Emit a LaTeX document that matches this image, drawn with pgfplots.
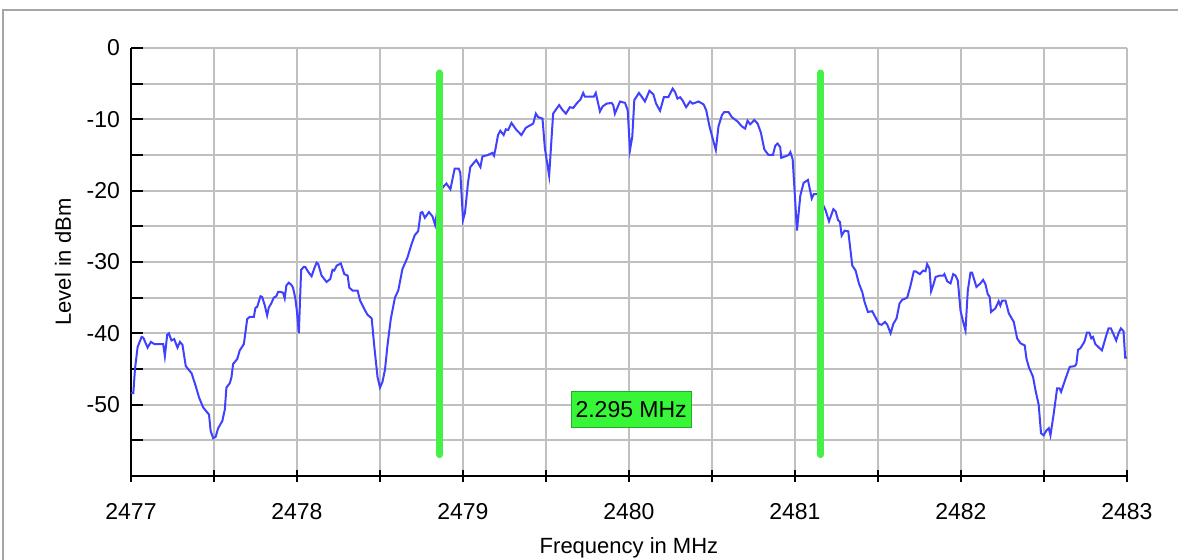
\documentclass[border=0pt]{standalone}
\usepackage{pgfplots}
\pgfplotsset{compat=1.18}
\usepackage{fontspec}
\setmainfont{Liberation Sans}
\definecolor{trace}{RGB}{64,64,255}
\definecolor{marker}{RGB}{70,240,70}
\definecolor{boxfill}{RGB}{55,245,55}
\definecolor{boxedge}{RGB}{40,170,40}
\definecolor{gridc}{RGB}{192,192,192}
\definecolor{framec}{RGB}{165,165,165}

\begin{document}
\begin{tikzpicture}
\begin{axis}[
  at={(0,0)}, anchor=south west,
  scale only axis, width=498pt, height=214pt,
  xmin=2477, xmax=2483, ymin=-60, ymax=0,
  axis lines=left, axis line style={-, black, line width=1pt},
  xtick={2477,...,2483}, minor xtick={2477.5,2478.5,...,2482.5},
  ytick={0,-10,...,-50}, minor ytick={-5,-15,...,-55},
  grid=both,
  major grid style={gridc, line width=0.9pt},
  minor grid style={gridc, line width=0.9pt},
  tick style={black, line width=1pt},
  major tick length=6pt, minor tick length=6pt,
  xtick align=center, ytick align=inside,
  scaled x ticks=false,
  /pgf/number format/assume math mode=true,
  x tick label style={/pgf/number format/1000 sep={}, yshift=-7pt},
  y tick label style={xshift=-2pt},
  tick label style={font=\fontsize{11.5}{13}\selectfont},
  xlabel={Frequency in MHz}, ylabel={Level in dBm},
  every axis x label/.style={at={(axis description cs:0.5,-0.168)}, anchor=center, font=\fontsize{11}{13}\selectfont},
  every axis y label/.style={at={(axis description cs:-0.0683,0.5)}, rotate=90, anchor=center, font=\fontsize{11}{13}\selectfont},
]
% measured trace
\addplot[trace, line width=1pt] coordinates {
(2477.000,-48.4)(2477.014,-48.4)(2477.024,-45.0)(2477.040,-41.9)(2477.064,-40.5)
(2477.074,-40.6)(2477.100,-42.0)(2477.120,-41.2)(2477.140,-41.5)(2477.194,-41.5)
(2477.204,-43.2)(2477.218,-40.2)(2477.228,-40.0)(2477.244,-41.0)(2477.260,-40.8)
(2477.280,-42.0)(2477.295,-41.2)(2477.310,-41.6)(2477.330,-44.6)(2477.365,-45.6)
(2477.390,-47.4)(2477.410,-49.0)(2477.435,-50.4)(2477.470,-51.4)(2477.480,-53.7)
(2477.495,-54.7)(2477.510,-54.5)(2477.525,-53.3)(2477.550,-52.3)(2477.565,-50.7)
(2477.575,-47.6)(2477.595,-47.0)(2477.605,-46.2)(2477.615,-44.3)(2477.640,-43.6)
(2477.655,-42.4)(2477.680,-41.5)(2477.700,-38.0)(2477.715,-37.7)(2477.740,-37.7)
(2477.750,-36.4)(2477.760,-36.3)(2477.780,-34.8)(2477.790,-34.9)(2477.805,-36.0)
(2477.820,-37.5)(2477.830,-36.4)(2477.845,-35.8)(2477.860,-35.0)(2477.875,-34.8)
(2477.886,-34.2)(2477.900,-34.2)(2477.916,-34.3)(2477.926,-35.1)(2477.936,-33.3)
(2477.950,-32.9)(2477.966,-33.2)(2477.976,-33.6)(2477.990,-35.1)(2478.000,-37.0)
(2478.011,-40.0)(2478.025,-31.1)(2478.040,-30.7)(2478.050,-30.7)
(2478.068,-31.4)(2478.088,-32.0)(2478.104,-30.9)(2478.118,-30.1)(2478.128,-30.3)
(2478.148,-31.9)(2478.178,-32.8)(2478.200,-32.4)(2478.214,-31.1)(2478.224,-31.2)
(2478.240,-30.5)(2478.264,-30.2)(2478.285,-31.7)(2478.305,-31.9)(2478.315,-33.6)
(2478.335,-34.0)(2478.365,-34.0)(2478.380,-35.4)(2478.410,-36.8)(2478.425,-37.4)
(2478.450,-37.9)(2478.465,-41.7)(2478.485,-46.1)(2478.500,-47.6)(2478.515,-46.8)
(2478.530,-45.1)(2478.545,-41.7)(2478.565,-38.0)(2478.590,-35.0)(2478.610,-34.0)
(2478.635,-31.0)(2478.665,-29.4)(2478.690,-27.5)(2478.710,-26.2)(2478.730,-25.7)
(2478.745,-23.1)(2478.755,-23.0)(2478.770,-23.8)(2478.795,-23.0)(2478.816,-23.6)
(2478.832,-24.8)(2478.850,-22.0)(2478.876,-19.6)(2478.900,-19.0)(2478.924,-19.8)
(2478.950,-16.9)(2478.974,-16.9)(2478.984,-17.5)(2479.000,-24.1)(2479.012,-23.1)
(2479.030,-18.9)(2479.044,-16.7)(2479.080,-15.7)(2479.105,-16.7)(2479.117,-15.2)
(2479.150,-15.0)(2479.177,-14.7)(2479.187,-15.1)(2479.197,-14.0)(2479.211,-12.2)
(2479.225,-11.6)(2479.245,-12.2)(2479.258,-11.4)(2479.272,-11.5)(2479.292,-10.5)
(2479.322,-11.5)(2479.352,-12.2)(2479.378,-11.2)(2479.392,-11.0)(2479.423,-10.6)
(2479.439,-9.2)(2479.453,-9.7)(2479.479,-9.9)(2479.493,-14.0)(2479.519,-17.9)
(2479.543,-9.2)(2479.579,-8.0)(2479.600,-8.7)(2479.620,-9.2)(2479.644,-8.3)
(2479.664,-8.4)(2479.684,-7.8)(2479.708,-7.2)(2479.724,-6.3)(2479.734,-6.8)
(2479.789,-6.8)(2479.800,-6.3)(2479.825,-8.9)(2479.841,-8.2)(2479.865,-7.8)
(2479.895,-7.7)(2479.905,-8.0)(2479.915,-9.2)(2479.946,-7.5)(2479.976,-7.7)
(2479.992,-8.7)(2480.006,-14.3)(2480.020,-12.4)(2480.032,-7.3)(2480.060,-6.3)
(2480.076,-6.8)(2480.096,-7.5)(2480.123,-6.0)(2480.147,-6.5)(2480.163,-7.8)
(2480.187,-8.8)(2480.210,-6.9)(2480.237,-6.9)(2480.263,-5.7)(2480.278,-6.2)
(2480.292,-7.1)(2480.308,-6.9)(2480.324,-7.4)(2480.344,-8.3)(2480.368,-7.5)
(2480.384,-7.8)(2480.419,-7.5)(2480.449,-7.9)(2480.465,-8.7)(2480.485,-11.0)
(2480.509,-13.1)(2480.523,-14.3)(2480.539,-11.0)(2480.560,-9.4)(2480.573,-9.0)
(2480.600,-9.0)(2480.620,-9.7)(2480.654,-10.3)(2480.680,-11.0)(2480.700,-11.3)
(2480.714,-10.2)(2480.730,-10.7)(2480.755,-10.1)(2480.775,-10.6)(2480.795,-11.9)
(2480.815,-14.2)(2480.840,-15.0)(2480.867,-15.0)(2480.881,-13.7)(2480.895,-13.4)
(2480.911,-13.9)(2480.917,-15.4)(2480.941,-15.2)(2480.962,-15.0)(2480.972,-14.6)
(2480.986,-15.6)(2481.012,-25.6)(2481.032,-20.7)(2481.052,-18.9)(2481.078,-18.5)
(2481.101,-21.1)(2481.113,-20.5)(2481.140,-20.5)(2481.160,-21.5)(2481.185,-22.8)
(2481.205,-24.3)(2481.231,-22.6)(2481.245,-22.9)(2481.259,-24.1)(2481.271,-24.4)
(2481.281,-26.3)(2481.299,-25.6)(2481.321,-25.7)(2481.345,-30.5)(2481.365,-31.2)
(2481.385,-33.0)(2481.405,-34.2)(2481.419,-35.6)(2481.439,-37.0)(2481.465,-36.9)
(2481.481,-37.6)(2481.506,-38.7)(2481.522,-38.8)(2481.542,-38.4)(2481.556,-38.8)
(2481.576,-40.0)(2481.592,-38.7)(2481.612,-37.9)(2481.630,-35.8)(2481.646,-35.3)
(2481.676,-35.0)(2481.696,-33.3)(2481.716,-31.3)(2481.726,-31.3)(2481.752,-31.7)
(2481.772,-31.2)(2481.786,-31.3)(2481.796,-30.3)(2481.810,-30.9)(2481.820,-34.1)
(2481.832,-33.3)(2481.847,-32.1)(2481.873,-31.9)(2481.893,-31.9)(2481.900,-31.7)
(2481.917,-32.7)(2481.937,-33.0)(2481.953,-31.7)(2481.967,-31.9)(2481.981,-32.6)
(2481.997,-36.8)(2482.013,-38.4)(2482.027,-39.6)(2482.041,-34.0)(2482.057,-31.5)
(2482.067,-31.5)(2482.093,-33.5)(2482.117,-33.0)(2482.133,-32.5)(2482.147,-33.1)
(2482.161,-34.5)(2482.173,-34.9)(2482.181,-37.0)(2482.207,-36.5)(2482.227,-35.5)
(2482.237,-36.1)(2482.248,-35.4)(2482.268,-35.4)(2482.288,-37.2)(2482.318,-38.4)
(2482.338,-40.7)(2482.358,-41.4)(2482.384,-41.7)(2482.394,-43.5)(2482.408,-44.7)
(2482.434,-46.1)(2482.448,-47.9)(2482.468,-50.0)(2482.482,-54.0)(2482.498,-54.3)
(2482.515,-53.6)(2482.529,-53.3)(2482.539,-54.3)(2482.559,-51.2)(2482.579,-47.7)
(2482.593,-47.7)(2482.603,-48.2)(2482.629,-46.4)(2482.655,-44.7)(2482.685,-44.6)
(2482.695,-44.3)(2482.705,-42.3)(2482.719,-42.1)(2482.743,-41.2)(2482.759,-39.9)
(2482.773,-39.9)(2482.785,-40.7)(2482.795,-40.5)(2482.809,-41.5)(2482.849,-42.4)
(2482.875,-40.3)(2482.889,-39.3)(2482.903,-39.3)(2482.935,-41.0)(2482.949,-40.0)
(2482.963,-39.3)(2482.979,-39.7)(2482.989,-43.4)(2483.000,-43.4)};
% bandwidth markers
\addplot[marker, line width=3.5pt, line cap=round] coordinates {(2478.858,-3.5) (2478.858,-57.0)};
\addplot[marker, line width=3.5pt, line cap=round] coordinates {(2481.155,-3.5) (2481.155,-57.0)};
\node[fill=boxfill, draw=boxedge, line width=0.6pt, inner sep=1.5pt, minimum width=60pt, minimum height=18pt,
      font=\fontsize{11.5}{13}\selectfont] at (axis cs:2480.013,-50.7) {2.295 MHz};
\end{axis}
\draw[framec, line width=1pt] (-64pt,-42pt) -- (-64pt,233pt) -- (523.5pt,233pt);
\pgfresetboundingbox
\path[use as bounding box] (-65.5pt,-42pt) rectangle (523.5pt,238pt);
\end{tikzpicture}
\end{document}
